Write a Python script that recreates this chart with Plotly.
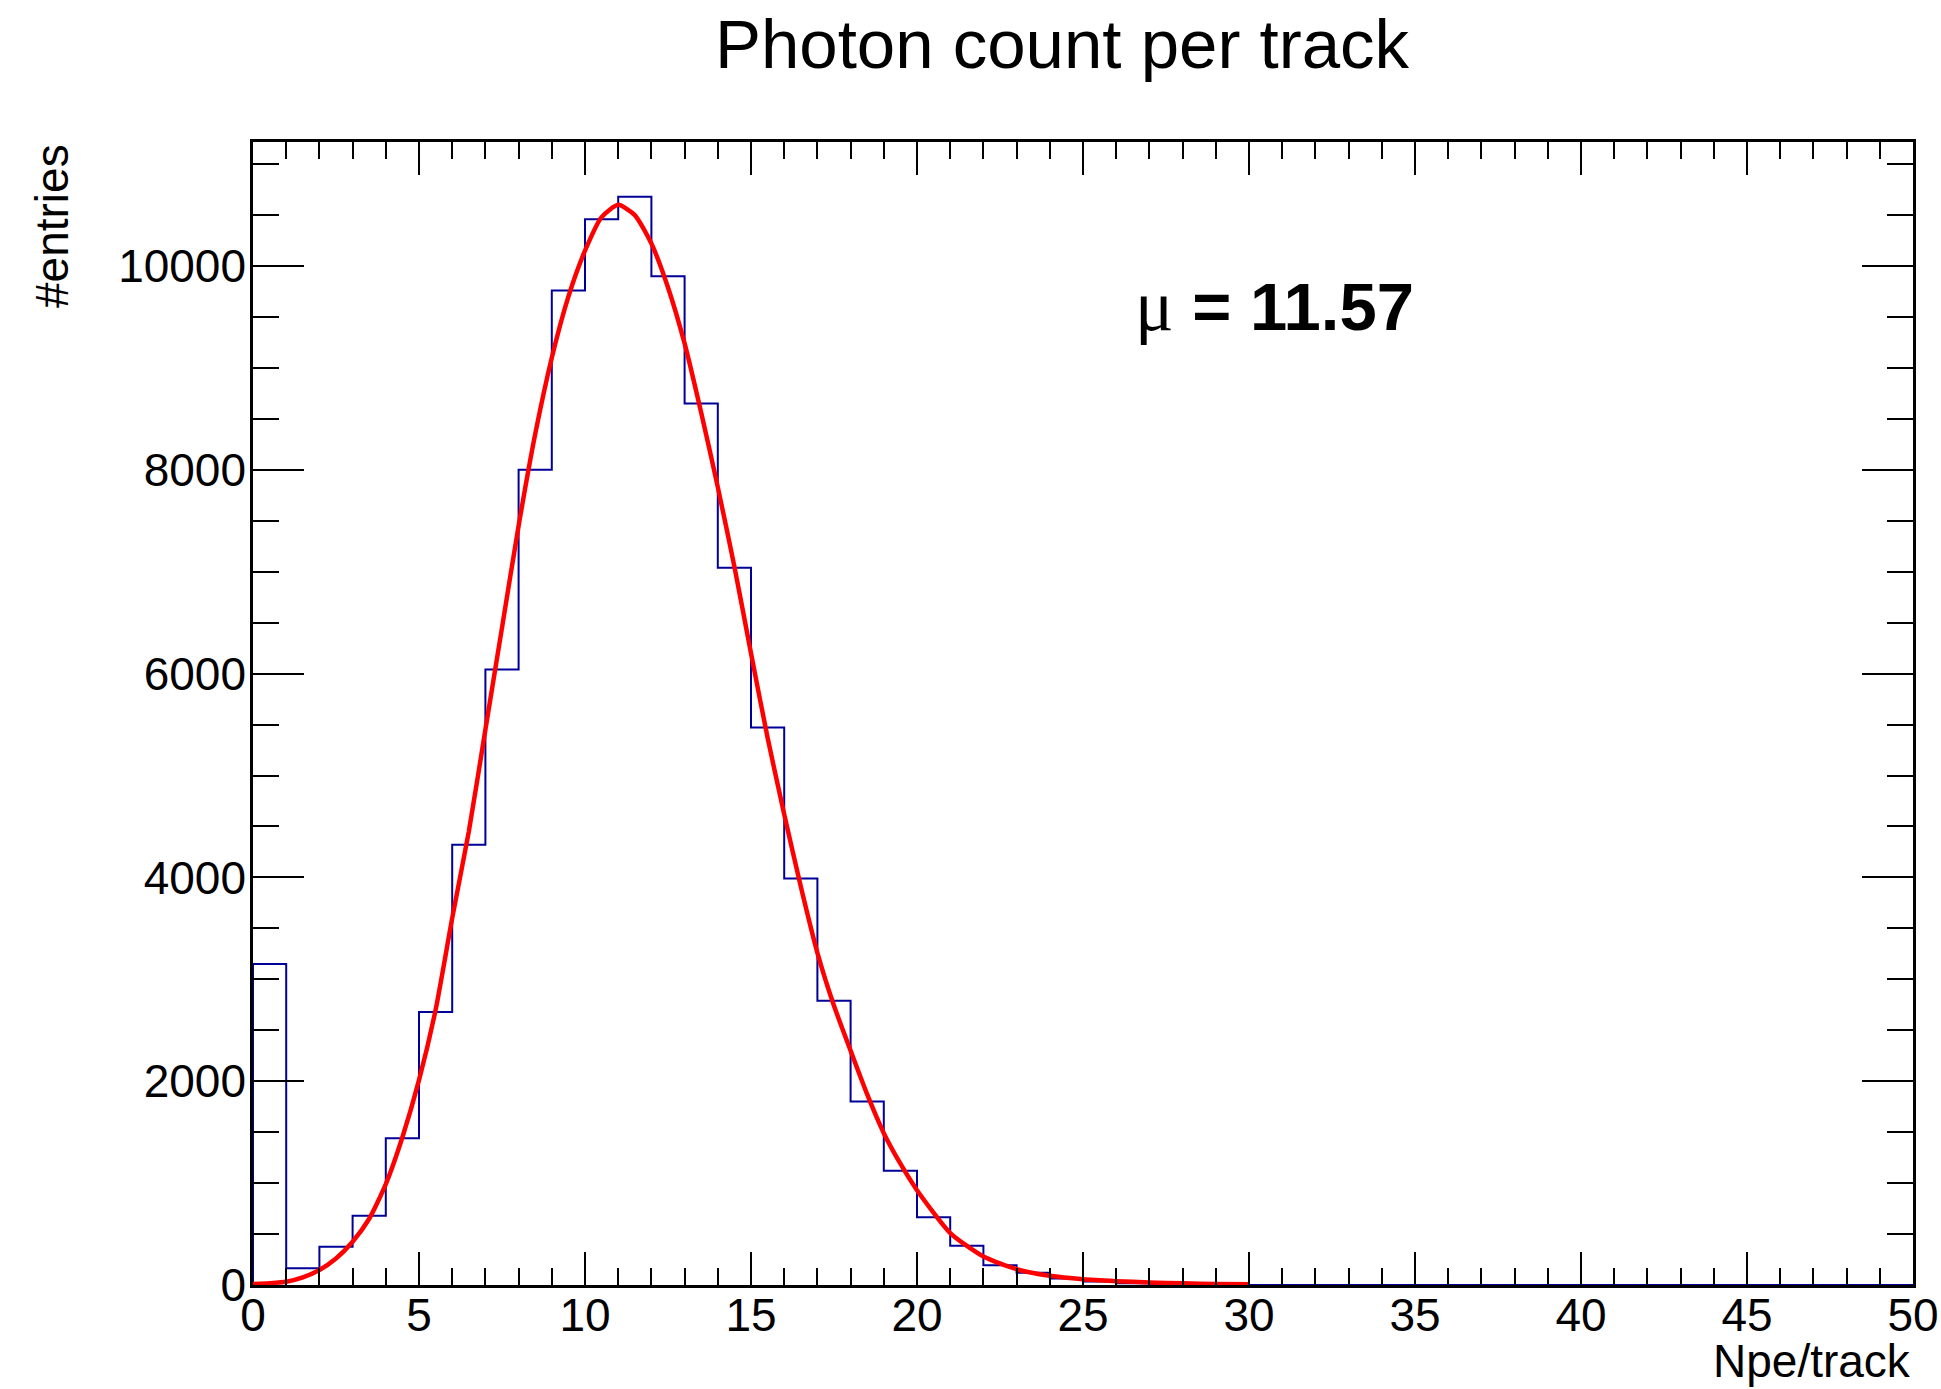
import plotly.graph_objects as go

# ---- data ----
bin_low = list(range(50))  # 1-unit bins from 0 to 50
counts = [3150, 165, 375, 680, 1440, 2680, 4320, 6040, 8000, 9760,
          10460, 10680, 9900, 8650, 7040, 5470, 3990, 2790, 1800, 1120,
          665, 385, 195, 120, 65, 35, 18, 9, 5, 2,
          0, 0, 0, 0, 0, 0, 0, 0, 0, 0,
          0, 0, 0, 0, 0, 0, 0, 0, 0, 0]

fit_x = [0, 0.5, 1, 1.5, 2, 2.5, 3, 3.5, 4, 4.5, 5, 5.5, 6, 6.5, 7, 7.5, 8, 8.5,
         9, 9.5, 10, 10.5, 11, 11.5, 12, 12.5, 13, 13.5, 14, 14.5, 15, 15.5,
         16, 16.5, 17, 17.5, 18, 18.5, 19, 19.5, 20, 21, 22, 23, 24, 25, 26,
         27, 28, 29, 30]
fit_y = [10, 18, 32, 75, 147, 260, 425, 650, 990, 1450, 2010, 2700, 3600, 4450,
         5450, 6450, 7450, 8350, 9100, 9700, 10150, 10480, 10600, 10500, 10220,
         9790, 9240, 8560, 7830, 7050, 6200, 5370, 4620, 3910, 3260, 2740, 2300,
         1870, 1490, 1190, 930, 510, 280, 155, 90, 56, 38, 25, 16, 10, 7]

x_ticks = [0, 5, 10, 15, 20, 25, 30, 35, 40, 45, 50]
y_ticks = [0, 2000, 4000, 6000, 8000, 10000]
mu_text = "11.57"

FONT = "Liberation Sans, Arial, Helvetica, sans-serif"

# step outline of the histogram
step_x = [bin_low[0]] + bin_low + [bin_low[-1] + 1]
step_y = [0] + counts + [counts[-1]]

fig = go.Figure()
fig.add_trace(go.Scatter(x=step_x, y=step_y, mode="lines",
                         line=dict(color="#000099", width=2, shape="hv"),
                         hoverinfo="skip", showlegend=False))
fig.add_trace(go.Scatter(x=fit_x, y=fit_y, mode="lines",
                         line=dict(color="#ff0000", width=4.5, shape="spline", smoothing=0.6),
                         hoverinfo="skip", showlegend=False))

W, H = 1941, 1389
ml, mr, mt, mb = 253, 28, 142, 104

axis_common = dict(showline=True, linecolor="black", linewidth=2.5, mirror="ticks",
                   ticks="inside", tickcolor="black", tickwidth=2,
                   showgrid=False, zeroline=False, automargin=False,
                   ticklabeloverflow="allow",
                   tickfont=dict(family=FONT, size=46, color="black"))

fig.update_layout(
    width=W, height=H,
    margin=dict(l=ml, r=mr, t=mt, b=mb, pad=0, autoexpand=False),
    paper_bgcolor="white", plot_bgcolor="white",
    title=dict(text="Photon count per track", x=1062 / W, xanchor="center",
               xref="container", y=1 - 44 / H, yanchor="middle", yref="container",
               font=dict(family=FONT, size=69, color="black")),
    xaxis=dict(range=[0, 50], tickvals=x_ticks, ticktext=[str(v) for v in x_ticks],
               ticklen=33, ticklabelstandoff=-12,
               minor=dict(dtick=1, ticklen=17, tickwidth=2, tickcolor="black", ticks="inside"),
               **axis_common),
    yaxis=dict(range=[0, 11217], tickvals=y_ticks, ticktext=[str(v) for v in y_ticks],
               ticklen=51, ticklabelstandoff=-5,
               minor=dict(dtick=500, ticklen=26, tickwidth=2, tickcolor="black", ticks="inside"),
               **axis_common),
    showlegend=False,
)

pw = W - ml - mr
ph = H - mt - mb

# axis titles (ROOT style: right/top aligned)
fig.add_annotation(text="Npe/track", xref="paper", yref="paper",
                   x=1.0, y=(ph - (1361 - mt)) / ph, xanchor="right", yanchor="middle",
                   showarrow=False, font=dict(family=FONT, size=46, color="black"))
fig.add_annotation(text="#entries", xref="paper", yref="paper",
                   x=(52 - ml) / pw, y=1.0, xanchor="center", yanchor="top",
                   textangle=-90, showarrow=False,
                   font=dict(family=FONT, size=46, color="black"))

# fit parameter label
fig.add_annotation(text='<span style="font-family:\'Liberation Serif\', \'DejaVu Serif\', serif;font-size:72px;font-weight:normal">μ</span><b> = ' + mu_text + '</b>',
                   xref="x", yref="y", x=26.5, y=9605, xanchor="left", yanchor="middle",
                   showarrow=False, font=dict(family=FONT, size=67, color="black"))

fig.write_html("out.html")
